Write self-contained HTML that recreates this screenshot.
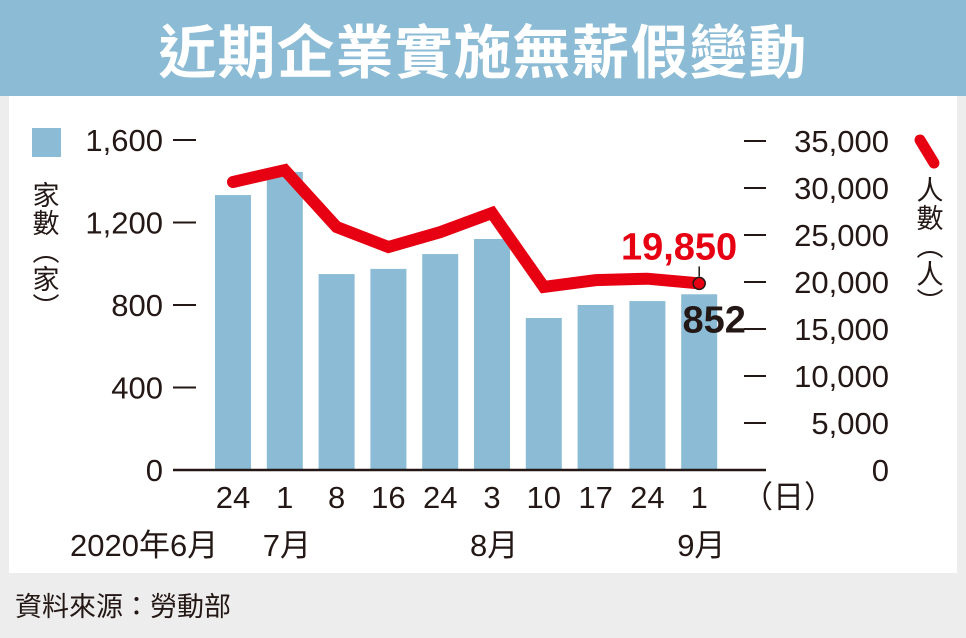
<!DOCTYPE html>
<html><head><meta charset="utf-8"><style>
html,body{margin:0;padding:0}
body{width:966px;height:638px;background:#ededed;position:relative;overflow:hidden;font-family:"Liberation Sans","Noto Sans CJK TC",sans-serif}
</style></head><body>
<div style="position:absolute;left:0;top:0;width:966px;height:96px;background:#8bbbd5"></div>
<div style="position:absolute;left:0;top:8px;width:966px;text-align:center;color:#fff;font-size:58px;font-weight:bold;font-family:'Noto Sans CJK TC',sans-serif;line-height:80px;letter-spacing:1px">近期企業實施無薪假變動</div>
<div style="position:absolute;left:9px;top:96px;width:948px;height:477px;background:#fff"></div>
<div style="position:absolute;left:15px;top:585px;font-size:27px;color:#231815;font-family:'Noto Sans CJK TC',sans-serif;line-height:40px">資料來源：勞動部</div>
<svg id="chart" width="966" height="638" style="position:absolute;left:0;top:0" xmlns="http://www.w3.org/2000/svg"></svg>
<script>
const categories=["24","1","8","16","24","3","10","17","24","1"];
const months=[["2020年6月",0],["7月",1],["8月",5],["9月",9]];
const companies=[1333,1445,950,975,1047,1120,737,800,819,852];
const workers=[30640,31900,25850,23720,25300,27340,19470,20200,20350,19850];
const leftTicks=[0,400,800,1200,1600];
const leftTickLabels=["0","400","800","1,200","1,600"];
const rightTicks=[0,5000,10000,15000,20000,25000,30000,35000];
const rightTickLabels=["0","5,000","10,000","15,000","20,000","25,000","30,000","35,000"];
const svg=document.getElementById('chart');
const NS='http://www.w3.org/2000/svg';
const base=470;
const yL=v=>base-v/1600*330;
const yR=v=>base-v/35000*329;
const xC=i=>233+i*51.8;
function mk(t,a,txt){const e=document.createElementNS(NS,t);for(const k in a)e.setAttribute(k,a[k]);if(txt!==undefined)e.textContent=txt;svg.appendChild(e);return e;}
const F="Liberation Sans, Noto Sans CJK TC, sans-serif";
companies.forEach((v,i)=>{
 const r=mk('rect',{x:xC(i)-18,y:yL(v),width:36,height:base-yL(v),fill:'#8bbbd5'});
 
 
});
const ax=mk('line',{x1:173,x2:766,y1:base,y2:base,stroke:'#231815','stroke-width':2.5});


leftTicks.forEach((v,i)=>{
 const l=mk('line',{x1:173,x2:196,y1:yL(v),y2:yL(v),stroke:'#231815','stroke-width':2});
 
 
 const t=mk('text',{x:163,y:yL(v)+11,'text-anchor':'end','font-size':31,fill:'#231815','font-family':F},leftTickLabels[i]);
 
 
});
rightTicks.forEach((v,i)=>{
 const l=mk('line',{x1:744,x2:766,y1:yR(v),y2:yR(v),stroke:'#231815','stroke-width':2});
 
 
 const t=mk('text',{x:889,y:yR(v)+11,'text-anchor':'end','font-size':31,fill:'#231815','font-family':F},rightTickLabels[i]);
 
 
});
const pts=workers.map((v,i)=>xC(i)+','+yR(v)).join(' ');
const pl=mk('polyline',{points:pts,fill:'none',stroke:'#e60012','stroke-width':12,'stroke-linejoin':'miter','stroke-linecap':'round'});


const li=workers.length-1;
const lx=xC(li),ly=yR(workers[li]);
const c=mk('circle',{cx:lx,cy:ly,r:6,fill:'#e60012',stroke:'#231815','stroke-width':1.5});


const ld=mk('line',{x1:lx,x2:lx,y1:ly-7,y2:ly-17,stroke:'#231815','stroke-width':1.5});


const v1=mk('text',{x:lx+38,y:ly-24,'text-anchor':'end','font-size':38,'font-weight':'bold',fill:'#e60012','font-family':F},workers[li].toLocaleString('en-US'));


const v2=mk('text',{x:lx+15,y:ly+49,'text-anchor':'middle','font-size':38,'font-weight':'bold',fill:'#231815','font-family':F},String(companies[li]));


categories.forEach((c2,i)=>{
 const t=mk('text',{x:xC(i),y:508,'text-anchor':'middle','font-size':31,fill:'#231815','font-family':F},c2);
 
 
});
const d=mk('text',{x:742,y:508,'font-size':31,fill:'#231815','font-family':F},'（日）');


months.forEach(m=>{
 const t=mk('text',{x:m[1]===0?70:xC(m[1])-22,y:556,'font-size':31,fill:'#231815','font-family':F},m[0]);
 
 
});
const lg=mk('rect',{x:32,y:128,width:29,height:29,fill:'#8bbbd5'});


const ls=mk('line',{x1:920,x2:934,y1:140,y2:163,stroke:'#e60012','stroke-width':11,'stroke-linecap':'round'});


["家","數","︵","家","︶"].forEach((ch,i)=>{
 const t=mk('text',{x:46,y:205+i*28,'text-anchor':'middle','font-size':27,fill:'#231815','font-family':'Noto Sans CJK TC, sans-serif'},ch);
 
 
});
["人","數","︵","人","︶"].forEach((ch,i)=>{
 const t=mk('text',{x:930,y:200+i*28,'text-anchor':'middle','font-size':27,fill:'#231815','font-family':'Noto Sans CJK TC, sans-serif'},ch);
 
 
});
</script>
</body></html>
